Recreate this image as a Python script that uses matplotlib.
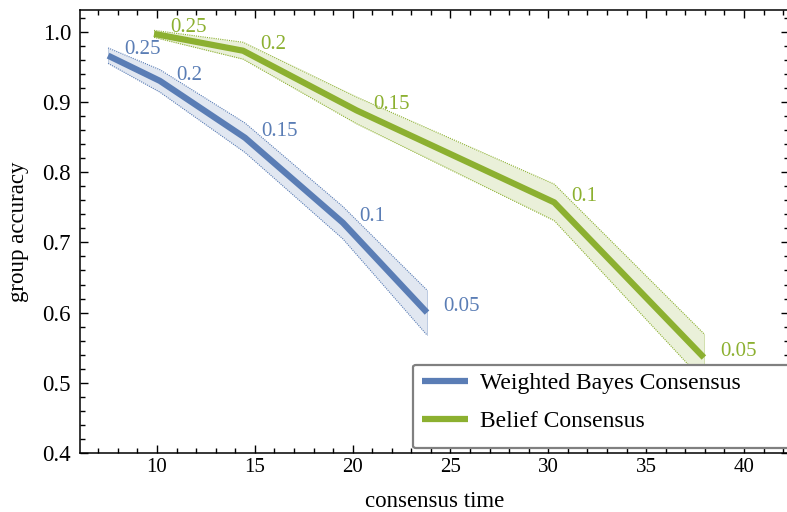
import matplotlib
matplotlib.use("Agg")
import matplotlib.pyplot as plt
import numpy as np
from matplotlib.patches import FancyBboxPatch
from matplotlib.ticker import MultipleLocator

plt.rcParams['font.family'] = ['Liberation Serif', 'DejaVu Serif']

thresholds = ["0.25", "0.2", "0.15", "0.1", "0.05"]
wb_time = [7.5, 10.15, 14.5, 19.5, 23.8]
wb_acc = [0.966, 0.930, 0.849, 0.728, 0.600]
wb_err = [0.011, 0.016, 0.021, 0.023, 0.032]
bc_time = [9.85, 14.4, 20.2, 30.3, 37.95]
bc_acc = [0.997, 0.973, 0.888, 0.757, 0.536]
bc_err = [0.005, 0.012, 0.019, 0.026, 0.034]
series_names = ["Weighted Bayes Consensus", "Belief Consensus"]

blue = "#5a7db5"
green = "#8cb030"

fig = plt.figure(figsize=(7.87, 5.12), dpi=100)
ax = fig.add_axes([80/787, 59/512, 709/787, 443/512])

for t, a, e, c, name in [(wb_time, wb_acc, wb_err, blue, series_names[0]),
                         (bc_time, bc_acc, bc_err, green, series_names[1])]:
    t = np.array(t); a = np.array(a); e = np.array(e)
    ax.fill_between(t, a - e, a + e, color=c, alpha=0.18, lw=0)
    ax.plot(t, a + e, color=c, lw=0.8, ls=(0, (1, 1)))
    ax.plot(t, a - e, color=c, lw=0.8, ls=(0, (1, 1)))
    ax.plot([t[0], t[0]], [a[0]-e[0], a[0]+e[0]], color=c, lw=0.6, alpha=0.4)
    ax.plot([t[-1], t[-1]], [a[-1]-e[-1], a[-1]+e[-1]], color=c, lw=0.6, alpha=0.4)
    ax.plot(t, a, color=c, lw=4.5, label=name, solid_capstyle='butt')
    for xi, yi, lab in zip(t, a, thresholds):
        ax.annotate(lab, (xi, yi), xytext=(12, 1), textcoords='offset points',
                    ha='left', va='baseline', color=c, fontsize=15)

ax.set_xlim(6.065, 42.3)
ax.set_ylim(0.4, 1.031)
ax.xaxis.set_minor_locator(MultipleLocator(1))
ax.yaxis.set_minor_locator(MultipleLocator(0.02))
ax.set_xticks([10, 15, 20, 25, 30, 35, 40])
ax.set_yticks([0.4, 0.5, 0.6, 0.7, 0.8, 0.9, 1.0])
ax.set_yticklabels(["0.4", "0.5", "0.6", "0.7", "0.8", "0.9", "1.0"])
ax.tick_params(which='both', direction='in', top=True, right=True, width=1)
ax.tick_params(axis='x', labelsize=15)
ax.tick_params(axis='y', labelsize=16.5, pad=6.5)
ax.tick_params(which='major', length=6)
ax.tick_params(which='minor', length=3.3)
for s in ax.spines.values():
    s.set_linewidth(1.1)

ax.set_xlabel("consensus time", fontsize=16.5, labelpad=10)
ax.set_ylabel("group accuracy", fontsize=16.5, labelpad=9.5)

leg = ax.legend(loc='upper left', bbox_to_anchor=(410/787, 1 - 361/512),
                bbox_transform=fig.transFigure, frameon=False, fontsize=17,
                handlelength=1.95, handletextpad=0.5, borderpad=0.0,
                labelspacing=0.68)
leg.set_zorder(6)
box = FancyBboxPatch((413/787, 1 - 448/512), 0.6, (448 - 365)/512,
                     boxstyle="round,pad=0,rounding_size=0.004",
                     transform=fig.transFigure, facecolor='white',
                     edgecolor='#808080', lw=1.6, zorder=5, clip_on=False)
ax.add_patch(box)

fig.savefig("out.png", dpi=100)
